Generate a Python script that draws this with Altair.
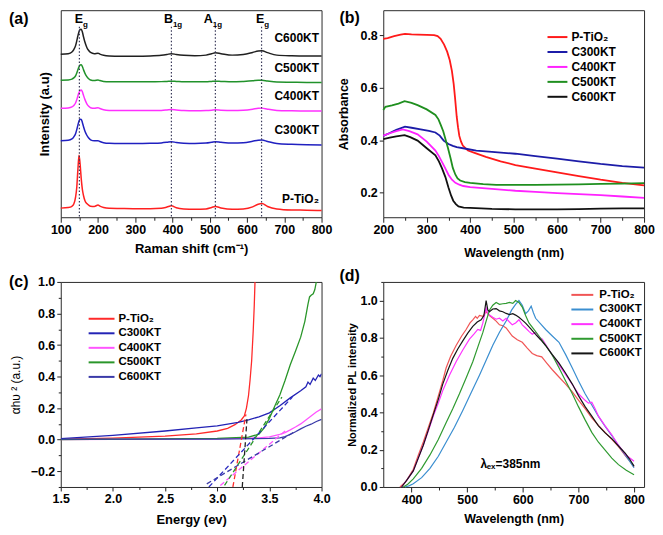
import altair as alt
import pandas as pd

FONT = "Liberation Sans"
NAMES = ["P-TiO₂", "C300KT", "C400KT", "C500KT", "C600KT"]

# ---------------- (a) Raman spectra ----------------
raman_shift = [100, 120, 130, 135, 140, 143, 146, 149, 152, 155, 158, 161, 165, 170, 175, 180, 190, 200, 205, 215,
               230, 260, 300, 340, 370, 385, 397, 410, 430, 460, 490, 505, 515, 530, 560, 590, 615, 630, 640, 655,
               680, 720, 760, 800]
raman_ptio2 = [4.4, 4.7, 5.3, 6.4, 10.0, 14.5, 23.0, 30.0, 25.5, 18.5, 13.5, 10.5, 8.0, 6.6, 5.8, 5.3, 5.2, 5.9, 5.4, 4.7,
               4.3, 4.2, 4.1, 4.1, 4.3, 4.9, 5.5, 4.6, 4.0, 3.8, 4.0, 4.7, 5.2, 4.5, 3.8, 4.0, 5.0, 6.3, 6.6, 5.2,
               4.0, 3.5, 3.4, 3.2]
raman_c300 = [37.0, 37.2, 37.8, 38.8, 40.5, 42.3, 44.5, 46.5, 47.3, 47.2, 45.8, 43.8, 41.5, 39.6, 38.3, 37.4, 36.9, 37.0, 36.6, 36.0,
              35.7, 35.6, 35.6, 35.7, 35.9, 36.2, 36.5, 36.1, 35.7, 35.6, 35.8, 36.2, 36.5, 36.2, 35.8, 36.0, 36.7, 37.2, 37.3, 36.6,
              35.6, 35.2, 35.0, 34.9]
raman_c400 = [52.6, 52.8, 53.3, 54.0, 55.3, 56.8, 58.6, 60.2, 61.2, 61.5, 60.6, 58.9, 56.8, 54.8, 53.6, 52.9, 52.6, 52.9, 52.5, 51.9,
              51.6, 51.5, 51.5, 51.5, 51.6, 51.8, 52.0, 51.8, 51.5, 51.4, 51.5, 51.7, 51.9, 51.7, 51.5, 51.7, 52.2, 52.6, 52.7, 52.2,
              51.6, 51.4, 51.3, 51.3]
raman_c500 = [66.2, 66.3, 66.7, 67.3, 68.4, 69.7, 71.2, 72.6, 73.5, 73.6, 72.8, 71.3, 69.5, 67.9, 66.9, 66.3, 66.0, 66.3, 66.0, 65.6,
              65.4, 65.4, 65.4, 65.4, 65.5, 65.6, 65.7, 65.6, 65.4, 65.4, 65.4, 65.6, 65.7, 65.6, 65.4, 65.6, 65.9, 66.2, 66.2, 65.8,
              65.3, 65.2, 65.1, 65.1]
raman_c600 = [78.7, 79.0, 79.8, 81.0, 83.0, 85.2, 87.6, 89.6, 90.7, 90.8, 89.5, 87.2, 84.5, 82.0, 80.5, 79.6, 79.0, 79.2, 78.8, 78.2,
              77.9, 77.8, 77.8, 77.9, 78.2, 78.6, 79.0, 78.6, 78.2, 78.0, 78.3, 79.0, 79.4, 79.0, 78.3, 78.6, 79.6, 80.3, 80.4, 79.5,
              78.3, 78.0, 77.9, 77.9]
raman_label_y = [9.0, 41.9, 58.7, 72.3, 86.4]
raman_mode_x = [150, 397, 515, 639]
raman_mode_main = ["E", "B", "A", "E"]
raman_mode_sub = ["g", "1g", "1g", "g"]
raman_mode_anchor = [160, 401, 508, 646]
raman_ticks = [100, 150, 200, 250, 300, 350, 400, 450, 500, 550, 600, 650, 700, 750, 800]

# ---------------- (b) UV-vis absorbance ----------------
abs_ptio2_x = [200, 210, 225, 240, 250, 265, 280, 300, 317, 325, 332, 340, 347, 353, 358, 362, 365, 369, 372, 375,
               379, 383, 389, 395, 410, 436, 470, 504, 550, 600, 650, 700, 750, 800]
abs_ptio2_y = [0.787, 0.790, 0.797, 0.803, 0.806, 0.804, 0.803, 0.802, 0.801, 0.797, 0.787, 0.765, 0.738, 0.705, 0.664,
               0.615, 0.565, 0.490, 0.450, 0.417, 0.395, 0.380, 0.370, 0.361, 0.352, 0.337, 0.320, 0.306, 0.292, 0.278,
               0.264, 0.250, 0.238, 0.228]
abs_c300_x = [200, 215, 230, 250, 265, 286, 305, 320, 330, 339, 350, 360, 369, 390, 414, 450, 504, 550, 600, 650, 700, 750, 800]
abs_c300_y = [0.417, 0.428, 0.440, 0.452, 0.448, 0.442, 0.436, 0.430, 0.418, 0.399, 0.386, 0.379, 0.374, 0.368, 0.361,
              0.356, 0.349, 0.340, 0.330, 0.320, 0.310, 0.302, 0.296]
abs_c400_x = [200, 215, 230, 245, 260, 279, 300, 320, 328, 335, 343, 350, 358, 366, 375, 384, 400, 450, 504, 550, 600,
              650, 700, 750, 800]
abs_c400_y = [0.418, 0.427, 0.435, 0.442, 0.435, 0.423, 0.395, 0.361, 0.340, 0.318, 0.292, 0.269, 0.250, 0.238, 0.231,
              0.226, 0.222, 0.215, 0.208, 0.204, 0.199, 0.195, 0.191, 0.186, 0.181]
abs_c500_x = [200, 205, 220, 235, 249, 265, 279, 300, 320, 327, 332, 338, 343, 349, 355, 360, 366, 371, 377, 388, 400,
              430, 460, 504, 550, 600, 650, 700, 750, 800]
abs_c500_y = [0.516, 0.528, 0.533, 0.540, 0.549, 0.543, 0.534, 0.518, 0.497, 0.480, 0.460, 0.435, 0.405, 0.370, 0.331,
              0.295, 0.269, 0.255, 0.247, 0.241, 0.238, 0.233, 0.230, 0.230, 0.230, 0.231, 0.232, 0.234, 0.235, 0.237]
abs_c600_x = [200, 215, 230, 249, 262, 279, 300, 320, 328, 335, 343, 350, 356, 361, 367, 373, 385, 400, 450, 504, 550,
              600, 650, 700, 750, 800]
abs_c600_y = [0.405, 0.410, 0.415, 0.420, 0.412, 0.399, 0.370, 0.343, 0.320, 0.294, 0.260, 0.220, 0.190, 0.170, 0.157,
              0.148, 0.144, 0.143, 0.139, 0.137, 0.137, 0.137, 0.138, 0.140, 0.141, 0.141]
abs_xticks = [200, 250, 300, 350, 400, 450, 500, 550, 600, 650, 700, 750, 800]
abs_yticks = [0.2, 0.4, 0.6, 0.8]

# ---------------- (c) Tauc plot ----------------
tauc_ptio2_x = [1.5, 2.0, 2.5, 2.8, 3.0, 3.1, 3.17, 3.23, 3.26, 3.28, 3.30, 3.315, 3.33, 3.345, 3.355, 3.362]
tauc_ptio2_y = [0.004, 0.010, 0.022, 0.037, 0.055, 0.072, 0.095, 0.125, 0.150, 0.200, 0.280, 0.380, 0.500, 0.690, 0.850, 1.000]
tauc_c300_x = [1.5, 2.0, 2.5, 2.8, 3.0, 3.2, 3.3, 3.4, 3.5, 3.6, 3.7, 3.8, 3.85, 3.87, 3.89, 3.92, 3.94, 3.97, 3.985, 4.0]
tauc_c300_y = [0.006, 0.027, 0.055, 0.075, 0.088, 0.110, 0.125, 0.145, 0.170, 0.215, 0.265, 0.310, 0.335, 0.365, 0.350,
               0.390, 0.375, 0.410, 0.400, 0.418]
tauc_c400_x = [1.5, 3.0, 3.4, 3.5, 3.6, 3.65, 3.7, 3.75, 3.8, 3.85, 3.9, 3.95, 4.0]
tauc_c400_y = [0.000, 0.005, 0.012, 0.018, 0.033, 0.045, 0.062, 0.080, 0.100, 0.125, 0.150, 0.175, 0.195]
tauc_c500_x = [1.5, 3.0, 3.3, 3.4, 3.45, 3.5, 3.55, 3.6, 3.65, 3.7, 3.75, 3.8, 3.84, 3.87, 3.885, 3.90, 3.92, 3.935, 3.95]
tauc_c500_y = [0.000, 0.008, 0.016, 0.035, 0.075, 0.135, 0.210, 0.283, 0.375, 0.475, 0.560, 0.650, 0.750, 0.860, 0.905,
               0.915, 0.925, 0.950, 1.000]
tauc_c600_x = [1.5, 3.0, 3.5, 3.6, 3.65, 3.7, 3.75, 3.8, 3.85, 3.9, 3.95, 4.0]
tauc_c600_y = [0.003, 0.004, 0.008, 0.012, 0.020, 0.033, 0.050, 0.068, 0.085, 0.098, 0.115, 0.129]
fit_names = ["P-TiO₂ fit", "C300KT fit", "C400KT fit", "C500KT fit", "C600KT fit", "Eg mark"]
fit_x0 = [3.15, 2.92, 3.03, 3.07, 2.90, 3.24]
fit_y0 = [-0.30, -0.30, -0.29, -0.29, -0.28, -0.30]
fit_x1 = [3.275, 3.72, 3.66, 3.62, 3.74, 3.285]
fit_y1 = [0.16, 0.27, 0.06, 0.27, 0.05, 0.13]
tauc_xticks = [1.5, 1.75, 2.0, 2.25, 2.5, 2.75, 3.0, 3.25, 3.5, 3.75, 4.0]
tauc_yticks = [-0.3, -0.2, -0.1, 0.0, 0.1, 0.2, 0.3, 0.4, 0.5, 0.6, 0.7, 0.8, 0.9, 1.0]

# ---------------- (d) PL spectra ----------------
pl_ptio2_x = [379, 390, 403, 412, 421, 430, 439, 450, 456, 462, 470, 480, 490, 498, 505, 510, 515, 518, 522, 528,
              534, 540, 546, 552, 558, 564, 570, 576, 581, 590, 599, 608, 617, 625, 634, 643, 653, 665, 677, 689,
              700, 712, 724, 736, 748, 760, 772, 784, 792, 800]
pl_ptio2_y = [0.0, 0.03, 0.095, 0.17, 0.241, 0.32, 0.397, 0.509, 0.57, 0.638, 0.70, 0.759, 0.81, 0.845, 0.88, 0.897,
              0.915, 0.905, 0.92, 0.915, 0.94, 0.92, 0.905, 0.89, 0.87, 0.865, 0.853, 0.83, 0.81, 0.79, 0.776, 0.745,
              0.716, 0.705, 0.698, 0.665, 0.629, 0.59, 0.552, 0.51, 0.466, 0.42, 0.371, 0.33, 0.293, 0.255, 0.216,
              0.17, 0.14, 0.107]
pl_c300_x = [388, 395, 403, 418, 433, 448, 462, 477, 492, 507, 522, 534, 546, 558, 570, 580, 587, 593, 599, 605,
             610, 615, 619, 623, 632, 641, 653, 665, 677, 689, 700, 712, 724, 736, 748, 760, 772, 784, 793, 800]
pl_c300_y = [0.0, 0.006, 0.017, 0.05, 0.10, 0.165, 0.24, 0.32, 0.41, 0.505, 0.60, 0.68, 0.76, 0.83, 0.89, 0.95,
             0.98, 1.0, 0.975, 0.93, 0.945, 0.97, 0.935, 0.905, 0.875, 0.845, 0.81, 0.776, 0.71, 0.638, 0.57, 0.50,
             0.44, 0.379, 0.325, 0.276, 0.222, 0.172, 0.135, 0.103]
pl_c400_x = [382, 392, 403, 412, 421, 430, 439, 448, 456, 468, 480, 492, 504, 512, 519, 524, 528, 534, 537, 540,
             546, 552, 558, 564, 570, 576, 581, 587, 593, 599, 605, 611, 617, 623, 629, 635, 644, 653, 665, 677,
             689, 700, 712, 718, 724, 730, 736, 748, 760, 772, 786, 800]
pl_c400_y = [0.0, 0.04, 0.086, 0.155, 0.224, 0.30, 0.38, 0.45, 0.517, 0.60, 0.672, 0.735, 0.793, 0.82, 0.845, 0.84,
             0.879, 0.96, 0.93, 0.922, 0.91, 0.90, 0.905, 0.89, 0.905, 0.885, 0.87, 0.88, 0.897, 0.87, 0.853, 0.835,
             0.819, 0.83, 0.805, 0.793, 0.75, 0.707, 0.655, 0.603, 0.55, 0.50, 0.465, 0.45, 0.455, 0.42, 0.38,
             0.328, 0.28, 0.224, 0.17, 0.138]
pl_c500_x = [385, 393, 403, 418, 433, 448, 462, 474, 486, 498, 510, 519, 528, 534, 540, 546, 552, 558, 564, 570,
             576, 582, 587, 593, 599, 605, 611, 620, 629, 641, 653, 665, 677, 689, 700, 712, 724, 736, 748, 760,
             772, 786, 800]
pl_c500_y = [0.0, 0.015, 0.043, 0.10, 0.172, 0.255, 0.345, 0.42, 0.50, 0.585, 0.672, 0.75, 0.828, 0.89, 0.948, 0.975,
             0.99, 0.98, 0.983, 0.985, 0.99, 0.985, 1.0, 0.99, 0.965, 0.92, 0.88, 0.845, 0.81, 0.76, 0.707, 0.64,
             0.569, 0.50, 0.431, 0.36, 0.293, 0.24, 0.198, 0.155, 0.12, 0.09, 0.066]
pl_c600_x = [382, 392, 403, 412, 421, 430, 439, 448, 456, 465, 474, 483, 492, 501, 510, 518, 525, 530, 534, 537,
             540, 546, 552, 558, 564, 570, 576, 582, 587, 593, 599, 605, 614, 623, 632, 641, 653, 665, 677, 689,
             700, 712, 724, 736, 748, 760, 772, 784, 792, 800]
pl_c600_y = [0.0, 0.04, 0.086, 0.155, 0.224, 0.305, 0.388, 0.47, 0.552, 0.625, 0.69, 0.74, 0.784, 0.825, 0.862, 0.885,
             0.897, 0.92, 1.0, 0.95, 0.94, 0.955, 0.957, 0.945, 0.94, 0.931, 0.925, 0.93, 0.922, 0.91, 0.895, 0.879,
             0.85, 0.819, 0.79, 0.759, 0.71, 0.664, 0.61, 0.552, 0.49, 0.431, 0.38, 0.328, 0.29, 0.259, 0.22, 0.181,
             0.15, 0.112]
pl_xticks = [400, 450, 500, 550, 600, 650, 700, 750, 800]
pl_yticks = [0.0, 0.1, 0.2, 0.3, 0.4, 0.5, 0.6, 0.7, 0.8, 0.9, 1.0, 1.1]
lambda_parts = ["λ", "ex", "=385nm"]
lambda_x = [524, 535, 551]
lambda_y = [0.125, 0.105, 0.125]

# ---------------- styles ----------------
A_COLORS = ["#ff2020", "#2020c0", "#ff30ff", "#21922b", "#202020"]
B_COLORS = ["#ff1a1a", "#1c1ca8", "#ff22ff", "#1f8f1f", "#111111"]
C_COLORS = ["#ff2a2a", "#2323b5", "#ff55ff", "#2a962a", "#3a3aa8"]
C_FIT_COLORS = ["#ff3030", "#2a2ac0", "#ff55ff", "#2a962a", "#3a3aa8", "#222222"]
D_COLORS = ["#f05555", "#3a8ed0", "#ff33ff", "#2f9a30", "#151515"]

W = 262
H1 = 208
H2 = 206


def make_df(names, xs_list, ys_list):
    rows = []
    for n, xs, ys in zip(names, xs_list, ys_list):
        for i, (x, y) in enumerate(zip(xs, ys)):
            rows.append({"series": n, "x": x, "y": y, "i": i})
    return pd.DataFrame(rows)


def tick_cond(test, major, minor):
    return {"condition": {"test": test, "value": major}, "value": minor}


def panel_label(txt, px, py):
    return alt.Chart(pd.DataFrame({"t": [txt]})).mark_text(
        align="left", baseline="middle", font=FONT, fontSize=16, fontWeight="bold", color="black"
    ).encode(x=alt.value(px), y=alt.value(py), text="t:N")


def legend(lx, ly, half_len, row_pad, fsize, offset):
    # a thin horizontal line symbol; nominal symbol box is 10 px so rows stay compact
    path = "M-%.2f,0L%.2f,0" % (half_len, half_len)
    return alt.Legend(orient="none", legendX=lx, legendY=ly, title=None, symbolType=path,
                      symbolSize=100, symbolStrokeWidth=2, labelFont=FONT,
                      labelFontWeight="bold", labelFontSize=fsize, labelColor="black",
                      labelOffset=offset, rowPadding=row_pad, padding=0)


# ---------------- panel (a) ----------------
a_xs = alt.Scale(domain=[100, 800], nice=False, zero=False)
a_ys = alt.Scale(domain=[0, 100], nice=False, zero=False)
a_xaxis = alt.Axis(
    values=raman_ticks, labelExpr="datum.value % 100 === 0 ? datum.label : ''",
    tickSize=tick_cond("datum.value % 100 === 0", 5, 3), title="Raman shift (cm⁻¹)",
    titlePadding=7, labelPadding=1, labelOverlap=False, labelFlush=False, titleFontSize=13)
a_yaxis = alt.Axis(labels=False, ticks=False, title="Intensity (a.u)", titlePadding=9, titleFontSize=13)
a_df = make_df(NAMES, [raman_shift] * 5, [raman_ptio2, raman_c300, raman_c400, raman_c500, raman_c600])
a_lines = alt.Chart(a_df).mark_line(strokeWidth=1.5, interpolate="monotone").encode(
    x=alt.X("x:Q", scale=a_xs, axis=a_xaxis),
    y=alt.Y("y:Q", scale=a_ys, axis=a_yaxis),
    color=alt.Color("series:N", scale=alt.Scale(domain=NAMES, range=A_COLORS), legend=None),
    order="i:Q",
)
a_rule_df = pd.DataFrame({"x": raman_mode_x, "y": [92] * 4, "bottom": [0] * 4})
a_rules = alt.Chart(a_rule_df).mark_rule(color="#3a3a5a", strokeDash=[1.5, 2], strokeWidth=1.2).encode(
    x=alt.X("x:Q", scale=a_xs, axis=a_xaxis), y=alt.Y("y:Q", scale=a_ys, axis=a_yaxis), y2="bottom:Q")
a_name_df = pd.DataFrame({"x": [793] * 5, "y": raman_label_y, "t": NAMES})
a_names = alt.Chart(a_name_df).mark_text(align="right", baseline="middle", font=FONT, fontSize=12,
                                         fontWeight="bold", color="black").encode(
    x=alt.X("x:Q", scale=a_xs, axis=a_xaxis), y=alt.Y("y:Q", scale=a_ys, axis=a_yaxis), text="t:N")
a_mode_df = pd.DataFrame({"x": raman_mode_anchor, "y": [95.5] * 4, "m": raman_mode_main})
a_sub_df = pd.DataFrame({"x": raman_mode_anchor, "y": [93.0] * 4, "s": raman_mode_sub})
a_mode_main = alt.Chart(a_mode_df).mark_text(align="right", baseline="middle", font=FONT, fontSize=12.5,
                                             fontWeight="bold", color="black").encode(
    x=alt.X("x:Q", scale=a_xs, axis=a_xaxis), y=alt.Y("y:Q", scale=a_ys, axis=a_yaxis), text="m:N")
a_mode_sub = alt.Chart(a_sub_df).mark_text(align="left", baseline="middle", font=FONT, fontSize=8,
                                           fontWeight="bold", color="black").encode(
    x=alt.X("x:Q", scale=a_xs, axis=a_xaxis), y=alt.Y("y:Q", scale=a_ys, axis=a_yaxis), text="s:N")
panel_a = alt.layer(a_lines, a_rules, a_names, a_mode_main, a_mode_sub,
                    panel_label("(a)", -52, 9)).properties(width=W, height=H1)

# ---------------- panel (b) ----------------
b_xs = alt.Scale(domain=[200, 800], nice=False, zero=False)
b_ys = alt.Scale(domain=[0.107, 0.896], nice=False, zero=False)
b_df = make_df(NAMES, [abs_ptio2_x, abs_c300_x, abs_c400_x, abs_c500_x, abs_c600_x],
               [abs_ptio2_y, abs_c300_y, abs_c400_y, abs_c500_y, abs_c600_y])
b_lines = alt.Chart(b_df).mark_line(strokeWidth=1.8).encode(
    x=alt.X("x:Q", scale=b_xs, axis=alt.Axis(
        values=abs_xticks, labelExpr="datum.value % 100 === 0 ? datum.label : ''",
        tickSize=tick_cond("datum.value % 100 === 0", 5, 3), title="Wavelength (nm)",
        titlePadding=11, labelPadding=1, labelOverlap=False, labelFlush=False)),
    y=alt.Y("y:Q", scale=b_ys, axis=alt.Axis(values=abs_yticks, format=".1f", tickSize=4, labelPadding=2,
                                              title="Absorbance", titlePadding=10)),
    color=alt.Color("series:N", scale=alt.Scale(domain=NAMES, range=B_COLORS),
                    legend=legend(169, 21, 2.0, 3, 12, 8)),
    order="i:Q",
)
panel_b = alt.layer(b_lines, panel_label("(b)", -44, 8)).properties(width=W, height=H1)

# ---------------- panel (c) ----------------
c_xs = alt.Scale(domain=[1.5, 4.0], nice=False, zero=False)
c_ys = alt.Scale(domain=[-0.3, 1.0], nice=False, zero=False)
c_xaxis = alt.Axis(
    values=tauc_xticks, labelExpr="round(datum.value * 4) % 2 === 0 ? format(datum.value, '.1f') : ''",
    tickSize=tick_cond("round(datum.value * 4) % 2 === 0", 4, 2.5), title="Energy (ev)",
    titlePadding=8, labelPadding=2, labelOverlap=False, labelFlush=False, titleFontSize=13)
c_yaxis = alt.Axis(
    values=tauc_yticks, labelExpr="abs(round(datum.value * 10)) % 2 === 0 ? format(datum.value, '.1f') : ''",
    tickSize=tick_cond("abs(round(datum.value * 10)) % 2 === 0", 4, 2.5), labelPadding=2,
    labelOverlap=False, labelFlush=False, title="αhυ ² (a.u.)", titleFontWeight="normal",
    titleFontSize=12, titlePadding=8)
c_df = make_df(NAMES, [tauc_ptio2_x, tauc_c300_x, tauc_c400_x, tauc_c500_x, tauc_c600_x],
               [tauc_ptio2_y, tauc_c300_y, tauc_c400_y, tauc_c500_y, tauc_c600_y])
c_lines = alt.Chart(c_df).mark_line(strokeWidth=1.3, clip=True).encode(
    x=alt.X("x:Q", scale=c_xs, axis=c_xaxis),
    y=alt.Y("y:Q", scale=c_ys, axis=c_yaxis),
    color=alt.Color("series:N", scale=alt.Scale(domain=NAMES, range=C_COLORS),
                    legend=legend(35, 31, 2.6, 2.6, 11.5, 11)),
    order="i:Q",
)
c_fit_df = pd.DataFrame({"series": fit_names, "x": fit_x0, "y": fit_y0, "x2": fit_x1, "y2": fit_y1})
c_fits = alt.Chart(c_fit_df).mark_rule(strokeDash=[5, 3], strokeWidth=1.3, clip=True).encode(
    x=alt.X("x:Q", scale=c_xs, axis=c_xaxis), y=alt.Y("y:Q", scale=c_ys, axis=c_yaxis), x2="x2:Q", y2="y2:Q",
    color=alt.Color("series:N", scale=alt.Scale(domain=fit_names, range=C_FIT_COLORS), legend=None),
)
panel_c = alt.layer(c_lines, c_fits, panel_label("(c)", -52, 0)).resolve_scale(
    color="independent").properties(width=W, height=H2)

# ---------------- panel (d) ----------------
d_xs = alt.Scale(domain=[349, 818], nice=False, zero=False)
d_ys = alt.Scale(domain=[0, 1.1], nice=False, zero=False)
d_xaxis = alt.Axis(
    values=pl_xticks, labelExpr="datum.value % 100 === 0 ? datum.label : ''",
    tickSize=tick_cond("datum.value % 100 === 0", 5, 3), title="Wavelength (nm)",
    titlePadding=6, labelPadding=2, labelOverlap=False, labelFlush=False)
d_yaxis = alt.Axis(
    values=pl_yticks, labelExpr="abs(round(datum.value * 10)) % 2 === 0 ? format(datum.value, '.1f') : ''",
    tickSize=tick_cond("abs(round(datum.value * 10)) % 2 === 0", 4, 2.5), labelPadding=2,
    labelOverlap=False, labelFlush=False, title="Normalized PL intensity", titleFontSize=11,
    titlePadding=3)
d_df = make_df(NAMES, [pl_ptio2_x, pl_c300_x, pl_c400_x, pl_c500_x, pl_c600_x],
               [pl_ptio2_y, pl_c300_y, pl_c400_y, pl_c500_y, pl_c600_y])
d_lines = alt.Chart(d_df).mark_line(strokeWidth=1.2).encode(
    x=alt.X("x:Q", scale=d_xs, axis=d_xaxis),
    y=alt.Y("y:Q", scale=d_ys, axis=d_yaxis),
    color=alt.Color("series:N", scale=alt.Scale(domain=NAMES, range=D_COLORS),
                    legend=legend(194, 7, 2.2, 2.7, 11.5, 11)),
    order="i:Q",
)
d_lam_df = pd.DataFrame({"x": lambda_x, "y": lambda_y, "t": lambda_parts, "k": ["big", "small", "big"]})
d_lam_big = alt.Chart(d_lam_df).transform_filter("datum.k === 'big'").mark_text(
    align="left", baseline="middle", font=FONT, fontSize=12, fontWeight="bold", color="black").encode(
    x=alt.X("x:Q", scale=d_xs, axis=d_xaxis), y=alt.Y("y:Q", scale=d_ys, axis=d_yaxis), text="t:N")
d_lam_small = alt.Chart(d_lam_df).transform_filter("datum.k === 'small'").mark_text(
    align="left", baseline="middle", font=FONT, fontSize=8, fontWeight="bold", color="black").encode(
    x=alt.X("x:Q", scale=d_xs, axis=d_xaxis), y=alt.Y("y:Q", scale=d_ys, axis=d_yaxis), text="t:N")
panel_d = alt.layer(d_lines, d_lam_big, d_lam_small, panel_label("(d)", -44, -6)).properties(width=W, height=H2)

chart = alt.concat(
    panel_a, panel_b, panel_c, panel_d, columns=2,
    spacing={"row": 65, "column": 62}, bounds="flush", padding=0
).resolve_scale(
    color="independent"
).configure_view(
    stroke="#2a2a2a", strokeWidth=1
).configure_axis(
    domain=False, grid=False, labelFont=FONT, labelFontSize=12.5, labelFontWeight="bold", labelColor="black",
    titleFont=FONT, titleFontSize=12.5, titleFontWeight="bold", titleColor="black", tickColor="#222222",
    tickWidth=1
).configure_text(font=FONT)

chart.save("out.html", embed_options={"renderer": "svg", "actions": False})
